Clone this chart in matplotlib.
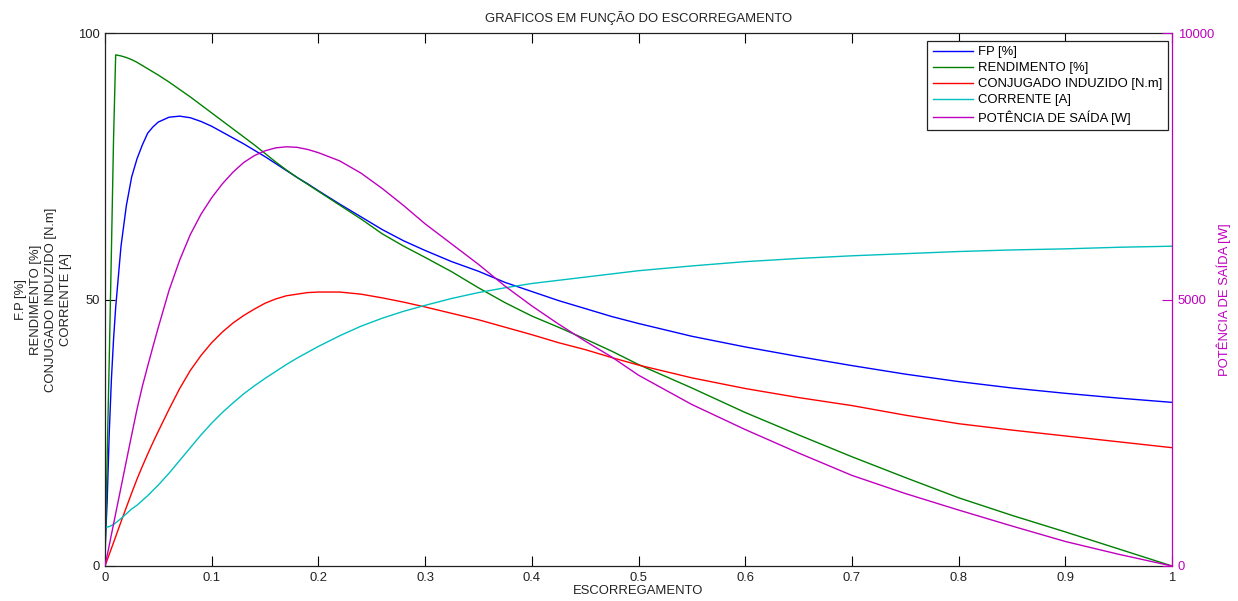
import matplotlib
matplotlib.use('Agg')
import matplotlib.pyplot as plt

plt.rcParams['font.family'] = ['Liberation Sans', 'DejaVu Sans']
plt.rcParams['font.size'] = 9.4

# ---------------- data ----------------
escorregamento = [0, 0.002, 0.004, 0.006, 0.008, 0.01, 0.015, 0.02, 0.025, 0.03,
                  0.035, 0.04, 0.045, 0.05, 0.06, 0.07, 0.08, 0.09, 0.1, 0.11,
                  0.12, 0.13, 0.14, 0.15, 0.16, 0.17, 0.18, 0.19, 0.2, 0.22,
                  0.24, 0.26, 0.28, 0.3, 0.325, 0.35, 0.375, 0.4, 0.425, 0.45,
                  0.475, 0.5, 0.55, 0.6, 0.65, 0.7, 0.75, 0.8, 0.85, 0.9,
                  0.95, 1.0]

fp = [3.0, 12, 25, 35, 42.5, 48.5, 60, 67.6, 73, 76.4,
      79, 81.2, 82.4, 83.3, 84.2, 84.4, 84.1, 83.4, 82.5, 81.4,
      80.3, 79.2, 78.0, 76.8, 75.5, 74.2, 72.9, 71.7, 70.4, 67.9,
      65.5, 63.1, 61.0, 59.2, 57.1, 55.3, 53.2, 51.5, 49.8, 48.3,
      46.8, 45.5, 43.1, 41.1, 39.3, 37.6, 36.0, 34.6, 33.4, 32.4,
      31.5, 30.7]

rendimento = [0, 20, 39, 59, 80, 95.9, 95.7, 95.4, 95.0, 94.5,
              93.9, 93.3, 92.7, 92.1, 90.8, 89.4, 88.0, 86.5, 85.0, 83.5,
              82.0, 80.5, 79.0, 77.4, 75.8, 74.3, 72.9, 71.6, 70.3, 67.7,
              65.1, 62.3, 60.0, 57.9, 55.2, 52.2, 49.4, 46.9, 44.8, 42.6,
              40.3, 37.8, 33.4, 28.8, 24.6, 20.5, 16.6, 12.8, 9.5, 6.4,
              3.2, 0]

conjugado = [0, 1.1, 2.2, 3.3, 4.4, 5.5, 8.3, 11.0, 13.7, 16.3,
             18.7, 21.0, 23.2, 25.3, 29.4, 33.3, 36.7, 39.5, 41.9, 43.9,
             45.6, 47.0, 48.2, 49.3, 50.1, 50.7, 51.0, 51.3, 51.4, 51.4,
             51.0, 50.3, 49.5, 48.6, 47.4, 46.2, 44.8, 43.4, 41.9, 40.6,
             39.1, 37.7, 35.3, 33.3, 31.6, 30.1, 28.3, 26.7, 25.5, 24.4,
             23.3, 22.2]

corrente = [7.2, 7.3, 7.4, 7.6, 7.8, 8.1, 8.9, 9.8, 10.7, 11.4,
            12.3, 13.2, 14.2, 15.2, 17.4, 19.8, 22.2, 24.6, 26.8, 28.8,
            30.6, 32.3, 33.8, 35.2, 36.5, 37.8, 39.0, 40.1, 41.2, 43.2,
            45.0, 46.5, 47.8, 48.9, 50.2, 51.3, 52.2, 53.0, 53.6, 54.2,
            54.8, 55.4, 56.3, 57.1, 57.7, 58.2, 58.6, 59.0, 59.3, 59.5,
            59.8, 60.0]

potencia = [0, 195, 390, 590, 785, 985, 1475, 1970, 2460, 2940,
            3370, 3750, 4120, 4480, 5170, 5740, 6220, 6600, 6910, 7170,
            7390, 7570, 7700, 7790, 7845, 7865, 7855, 7815, 7755, 7600,
            7370, 7080, 6760, 6420, 6040, 5660, 5250, 4880, 4540, 4220,
            3920, 3580, 3030, 2560, 2120, 1700, 1360, 1050, 750, 460,
            220, 0]

xticks = [0, 0.1, 0.2, 0.3, 0.4, 0.5, 0.6, 0.7, 0.8, 0.9, 1]
xticklabels = ['0', '0.1', '0.2', '0.3', '0.4', '0.5', '0.6', '0.7', '0.8', '0.9', '1']
yticks_left = [0, 50, 100]
yticks_right = [0, 5000, 10000]

labels = ['FP [%]', 'RENDIMENTO [%]', 'CONJUGADO INDUZIDO [N.m]',
          'CORRENTE [A]', 'POTÊNCIA DE SAÍDA [W]']

# ---------------- figure ----------------
W, H = 1238, 601
fig = plt.figure(figsize=(W / 100, H / 100), dpi=100)
L, R, T, B = 105, 1172, 33, 566
ax = fig.add_axes([L / W, 1 - B / H, (R - L) / W, (B - T) / H])
ax2 = ax.twinx()

blue, green, red, cyan, mag = '#0000FF', '#008000', '#FF0000', '#00BFBF', '#BF00BF'
lw = 1.0
h1, = ax.plot(escorregamento, fp, color=blue, lw=lw, label=labels[0])
h2, = ax.plot(escorregamento, rendimento, color=green, lw=lw, label=labels[1])
h3, = ax.plot(escorregamento, conjugado, color=red, lw=lw, label=labels[2])
h4, = ax.plot(escorregamento, corrente, color=cyan, lw=lw, label=labels[3])
h5, = ax2.plot(escorregamento, potencia, color=mag, lw=lw, label=labels[4])

ax.set_xlim(0, 1)
ax.set_ylim(0, 100)
ax2.set_ylim(0, 10000)
ax.set_xticks(xticks)
ax.set_xticklabels(xticklabels)
ax.set_yticks(yticks_left)
ax2.set_yticks(yticks_right)

ax.tick_params(direction='in', length=7, width=0.8, top=True, right=False,
               pad=4, labelcolor='#222222')
ax2.tick_params(axis='y', direction='in', length=7, width=0.8, colors=mag, pad=4)

for sp in ['top', 'bottom', 'left']:
    ax.spines[sp].set_linewidth(0.9)
    ax.spines[sp].set_color('#222222')
ax.spines['right'].set_visible(False)
ax2.spines['right'].set_color(mag)
ax2.spines['right'].set_linewidth(0.9)
ax2.spines['left'].set_visible(False)
ax2.spines['top'].set_visible(False)
ax2.spines['bottom'].set_visible(False)

ax.set_title('GRAFICOS EM FUNÇÃO DO ESCORREGAMENTO', pad=8, color='#222222',
             fontsize=9.4)
ax.set_xlabel('ESCORREGAMENTO', labelpad=1, color='#222222')
ax.set_ylabel('F.P [%]\nRENDIMENTO [%]\nCONJUGADO INDUZIDO [N.m]\nCORRENTE [A]',
              linespacing=1.33, color='#222222')
ax.yaxis.set_label_coords(-0.031, 0.5)
ax2.set_ylabel('POTÊNCIA DE SAÍDA [W]', color=mag)
ax2.yaxis.set_label_coords(1.042, 0.5)

leg = ax2.legend(handles=[h1, h2, h3, h4, h5], loc='upper right',
                 bbox_to_anchor=(0.996, 0.9855), borderaxespad=0,
                 fancybox=False, framealpha=1, edgecolor='#222222',
                 handlelength=3.1, handletextpad=0.4, labelspacing=0.3,
                 borderpad=0.4)
leg.get_frame().set_linewidth(0.9)

fig.savefig('out.png', dpi=100)
